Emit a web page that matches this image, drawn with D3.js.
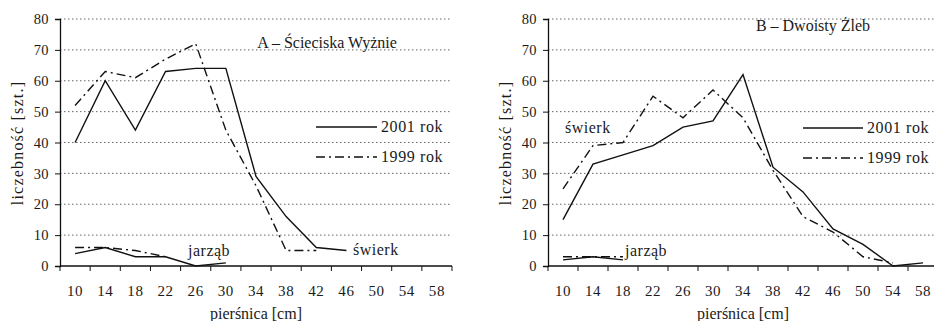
<!DOCTYPE html>
<html>
<head>
<meta charset="utf-8">
<script src="https://cdn.jsdelivr.net/npm/d3@7"></script>
<style>
  html, body { margin: 0; padding: 0; background: #fff; }
  svg text { font-family: "Liberation Serif", "DejaVu Serif", serif; fill: #1a1a1a; }
</style>
</head>
<body>
<div id="chart"></div>
<script>
// ==========================================
// DATA
// ==========================================

const diameters = [10, 14, 18, 22, 26, 30, 34, 38, 42, 46, 50, 54, 58];
const yTicks = [0, 10, 20, 30, 40, 50, 60, 70, 80];

// A – Ścieciska Wyżnie
const spruceA2001 = [40, 60, 44, 63, 64, 64, 29, 16, 6, 5];
const spruceA1999 = [52, 63, 61, 67, 72, 44, 26, 5, 5];
const rowanA2001 = [4, 6, 3, 3, 0, 1];
const rowanA1999 = [6, 6, 5, 3];

// B – Dwoisty Żleb
const spruceB2001 = [15, 33, 36, 39, 45, 47, 62, 32, 24, 12, 7, 0, 1];
const spruceB1999 = [25, 39, 40, 55, 48, 57, 48, 31, 16, 11, 3, 1];
const rowanB2001 = [2, 3, 2];
const rowanB1999 = [3, 3, 3];

const legendLabels = ['2001 rok', '1999 rok'];

// ==========================================
// LAYOUT
// ==========================================

const W = 934, H = 321;
const DASH_1999 = '9,4,2,4';

const panels = [
    {
        title: 'A – Ścieciska Wyżnie',
        left: 60, width: 392, top: 19, bottom: 266, gridRight: 452,
        titlePos: [327, 48],
        legend: { x1: 316, x2: 377, y: 127, dy: 30 },
        series: [
            { values: spruceA2001, dash: null },
            { values: spruceA1999, dash: DASH_1999 },
            { values: rowanA2001, dash: null },
            { values: rowanA1999, dash: DASH_1999 }
        ],
        labels: [
            { text: 'świerk', x: 353, y: 255 },
            { text: 'jarząb', x: 188, y: 256 }
        ],
        yLabelX: 17
    },
    {
        title: 'B – Dwoisty Żleb',
        left: 548, width: 390, top: 19, bottom: 266, gridRight: 934,
        titlePos: [813, 31],
        legend: { x1: 803, x2: 863, y: 128, dy: 30 },
        series: [
            { values: spruceB2001, dash: null },
            { values: spruceB1999, dash: DASH_1999 },
            { values: rowanB2001, dash: null },
            { values: rowanB1999, dash: DASH_1999 }
        ],
        labels: [
            { text: 'świerk', x: 565, y: 133 },
            { text: 'jarząb', x: 625, y: 256 }
        ],
        yLabelX: 505
    }
];

const svg = d3.select('#chart').append('svg')
    .attr('width', W)
    .attr('height', H);

function drawPanel(p) {
    const g = svg.append('g');

    const x = d3.scaleBand().domain(diameters).range([p.left, p.left + p.width]).padding(0);
    const y = d3.scaleLinear().domain([0, 80]).range([p.bottom, p.top]);
    const cx = d => x(d) + x.bandwidth() / 2;

    // dotted guides
    g.selectAll('line.grid')
        .data(yTicks.filter(t => t > 0))
        .join('line')
        .attr('x1', p.left).attr('x2', p.gridRight)
        .attr('y1', d => y(d)).attr('y2', d => y(d))
        .attr('stroke', '#666')
        .attr('stroke-width', 1)
        .attr('stroke-dasharray', '1.5,2.5');

    // y axis
    const yAxis = d3.axisLeft(y).tickValues(yTicks).tickSize(5).tickPadding(6);
    const ya = g.append('g').attr('transform', `translate(${p.left},0)`).call(yAxis);
    ya.select('.domain').attr('stroke', '#111').attr('stroke-width', 1.3);
    ya.selectAll('.tick line').attr('stroke', '#111');
    ya.selectAll('text')
        .attr('font-size', 14.5)
        .attr('letter-spacing', 0.4)
        .attr('font-family', '"Liberation Serif", serif')
        .attr('fill', '#1a1a1a');

    // x axis, ticks at band edges
    const edges = d3.range(diameters.length + 1).map(i => p.left + i * x.bandwidth());
    g.append('line')
        .attr('x1', p.left).attr('x2', p.left + p.width)
        .attr('y1', p.bottom).attr('y2', p.bottom)
        .attr('stroke', '#111').attr('stroke-width', 1.3);
    g.selectAll('line.xtick')
        .data(edges)
        .join('line')
        .attr('x1', d => d).attr('x2', d => d)
        .attr('y1', p.bottom).attr('y2', p.bottom + 5)
        .attr('stroke', '#111');
    g.selectAll('text.xlab')
        .data(diameters)
        .join('text')
        .attr('x', d => cx(d))
        .attr('y', p.bottom + 30)
        .attr('text-anchor', 'middle')
        .attr('font-size', 15)
        .attr('letter-spacing', 0.6)
        .text(d => d);

    // axis titles
    g.append('text')
        .attr('x', p.left + p.width / 2)
        .attr('y', 319)
        .attr('text-anchor', 'middle')
        .attr('font-size', 16)
        .text('pierśnica [cm]');
    g.append('text')
        .attr('transform', `translate(${p.yLabelX},143) rotate(-90)`)
        .attr('text-anchor', 'middle')
        .attr('dy', '0.35em')
        .attr('font-size', 16)
        .attr('letter-spacing', 1.2)
        .text('liczebność [szt.]');

    // series
    const line = d3.line()
        .x((d, i) => cx(diameters[i]))
        .y(d => y(d));

    p.series.forEach(s => {
        g.append('path')
            .datum(s.values)
            .attr('fill', 'none')
            .attr('stroke', '#111')
            .attr('stroke-width', 1.4)
            .attr('stroke-linejoin', 'miter')
            .attr('stroke-dasharray', s.dash)
            .attr('d', line);
    });

    // title
    g.append('text')
        .attr('x', p.titlePos[0]).attr('y', p.titlePos[1])
        .attr('text-anchor', 'middle')
        .attr('font-size', 16)
        .text(p.title);

    // legend
    legendLabels.forEach((lab, i) => {
        const ly = p.legend.y + i * p.legend.dy;
        g.append('line')
            .attr('x1', p.legend.x1).attr('x2', p.legend.x2)
            .attr('y1', ly).attr('y2', ly)
            .attr('stroke', '#111')
            .attr('stroke-width', 1.4)
            .attr('stroke-dasharray', i === 1 ? DASH_1999 : null);
        g.append('text')
            .attr('x', p.legend.x2 + 4).attr('y', ly + 5)
            .attr('font-size', 16)
            .attr('letter-spacing', 0.6)
            .text(lab);
    });

    // species labels
    p.labels.forEach(l => {
        g.append('text')
            .attr('x', l.x).attr('y', l.y)
            .attr('font-size', 16)
            .attr('letter-spacing', 0.5)
            .text(l.text);
    });
}

panels.forEach(drawPanel);
</script>
</body>
</html>
